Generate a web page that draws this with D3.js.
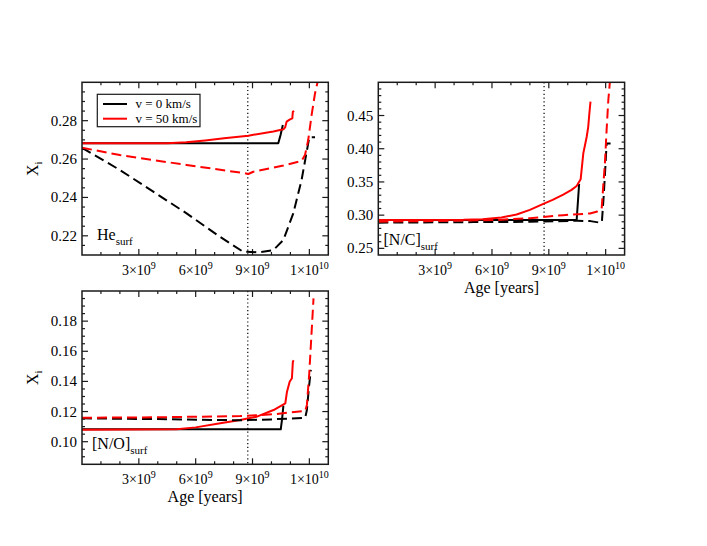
<!DOCTYPE html>
<html>
<head>
<meta charset="utf-8">
<script src="https://cdn.jsdelivr.net/npm/d3@7"></script>
<style>
  html, body { margin: 0; padding: 0; background: #fff; }
  svg { display: block; font-family: "Liberation Serif", "DejaVu Serif", serif; }
</style>
</head>
<body>
<svg id="chart" width="707" height="546"></svg>
<script>
// ---- data (ages in units of 10^9 years) ----
const xTickValues = [3, 6, 9, 12];
const xTickMantissa = ["3", "6", "9", "1"];
const xTickExponent = ["9", "9", "9", "10"];
const referenceAge = 8.75;

const seriesNames = ["v = 0 km/s", "v = 50 km/s"];

// He_surf
const heBlackSolid = [[0,0.2682],[10.36,0.2682],[10.48,0.2725],[10.6,0.2777]];
const heRedSolid = [[0,0.2682],[4.5,0.2683],[5.5,0.2688],[6.5,0.2697],[7.5,0.2708],[8.78,0.2722],[10.1,0.2744],[10.63,0.2755],[10.72,0.2765],[10.8,0.2795],[10.98,0.2807],[11.1,0.2812],[11.13,0.2847],[11.2,0.2850]];
const heBlackDashed = [[0,0.2659],[2.0,0.2543],[3.76,0.2430],[5.52,0.2317],[7.28,0.2195],[8.5,0.2117],[9.39,0.2114],[10.1,0.2126],[10.63,0.2178],[11.15,0.2317],[11.59,0.2491],[11.94,0.2682],[12.0,0.2713],[12.3,0.2713]];
const heRedDashed = [[0,0.2659],[2.0,0.2621],[5.52,0.2569],[8.6,0.2526],[8.78,0.2522],[9.04,0.2534],[10.63,0.2566],[11.59,0.2590],[11.77,0.2621],[11.94,0.2699],[12.12,0.2830],[12.3,0.2943],[12.42,0.2995],[12.5,0.3030]];

// [N/C]_surf
const ncBlackSolid = [[0,0.2927],[10.47,0.2927],[10.6,0.3470]];
const ncRedSolid = [[0,0.2927],[4.5,0.2930],[5.5,0.2940],[6.5,0.2965],[7.3,0.3010],[8.0,0.3080],[8.71,0.3170],[9.2,0.3230],[9.76,0.3310],[10.2,0.3380],[10.47,0.3440],[10.68,0.3540],[10.82,0.3930],[11.0,0.4180],[11.08,0.4330],[11.14,0.4530],[11.2,0.4710]];
const ncBlackDashed = [[0,0.2887],[5,0.2895],[8,0.2900],[10.5,0.2916],[11.2,0.2910],[11.7,0.2887],[11.8,0.2895],[11.9,0.3300],[12.0,0.3800],[12.05,0.4080],[12.26,0.4080]];
const ncRedDashed = [[0,0.2902],[3,0.2912],[6.25,0.2927],[8.0,0.2955],[9.76,0.3000],[11.17,0.3025],[11.52,0.3050],[11.79,0.3100],[11.87,0.3430],[11.96,0.3780],[12.05,0.4280],[12.14,0.4730],[12.23,0.5030]];

// [N/O]_surf
const noBlackSolid = [[0,0.1082],[10.49,0.1082],[10.56,0.1150],[10.63,0.1240]];
const noRedSolid = [[0,0.1080],[5.0,0.1082],[6.0,0.1095],[7.3,0.1122],[8.35,0.1144],[9.23,0.1166],[10.11,0.1210],[10.73,0.1255],[10.82,0.1332],[10.96,0.1398],[11.08,0.1421],[11.13,0.1531],[11.17,0.1540]];
const noBlackDashed = [[0,0.1155],[4,0.1150],[8.35,0.1142],[10,0.1148],[11.78,0.1159],[11.87,0.1210],[11.99,0.1376],[12.08,0.1476]];
const noRedDashed = [[0,0.1159],[4,0.1162],[8.35,0.1170],[10.1,0.1182],[11.78,0.1204],[11.87,0.1244],[11.99,0.1443],[12.1,0.1686],[12.22,0.1951]];

// ---- layout ----
const svg = d3.select("#chart");
const RED = "#ff0000", BLACK = "#000000", FRAME = "#1a1a1a";

const panels = [
  { id: "he", x0: 82, x1: 328.3, y0: 82.3, y1: 255, yDomain: [0.21, 0.30], yMajor: 0.02, yMinor: 0.005, yLabel: true, xLabel: false,
    tag: ["He", "surf"], tagX: 97, tagY: 239.5,
    series: [[heBlackSolid, BLACK, false], [heRedSolid, RED, false], [heBlackDashed, BLACK, true], [heRedDashed, RED, true]], legend: true },
  { id: "nc", x0: 378.3, x1: 624.6, y0: 82.3, y1: 255, yDomain: [0.24, 0.50], yMajor: 0.05, yMinor: 0.01, yLabel: false, xLabel: true,
    tag: ["[N/C]", "surf"], tagX: 383.5, tagY: 245,
    series: [[ncBlackSolid, BLACK, false], [ncRedSolid, RED, false], [ncBlackDashed, BLACK, true], [ncRedDashed, RED, true]] },
  { id: "no", x0: 82, x1: 328.3, y0: 291, y1: 464.3, yDomain: [0.085, 0.20], yMajor: 0.02, yMinor: 0.005, yLabel: true, xLabel: true,
    tag: ["[N/O]", "surf"], tagX: 92, tagY: 448.5,
    series: [[noBlackSolid, BLACK, false], [noRedSolid, RED, false], [noBlackDashed, BLACK, true], [noRedDashed, RED, true]] }
];

function range(start, stop, step) {
  const out = [];
  const n = Math.round((stop - start) / step);
  for (let i = 0; i <= n; i++) out.push(+(start + i * step).toFixed(6));
  return out;
}

panels.forEach(p => {
  const x = d3.scaleLinear().domain([0, 13]).range([p.x0, p.x1]);
  const y = d3.scaleLinear().domain(p.yDomain).range([p.y1, p.y0]);
  const g = svg.append("g");

  const clipId = "clip-" + p.id;
  svg.append("clipPath").attr("id", clipId).append("rect")
    .attr("x", p.x0).attr("y", p.y0).attr("width", p.x1 - p.x0).attr("height", p.y1 - p.y0);

  // ticks (inward, mirrored)
  const xMinor = range(0, 13, 1).filter(v => v > 0 && v < 13 && !xTickValues.includes(v));
  const yStartMinor = Math.ceil(p.yDomain[0] / p.yMinor - 1e-6) * p.yMinor;
  const yMinorVals = range(yStartMinor, p.yDomain[1], p.yMinor).filter(v => v > p.yDomain[0] + 1e-6 && v < p.yDomain[1] - 1e-6);
  const yMajorVals = yMinorVals.filter(v => Math.abs(v / p.yMajor - Math.round(v / p.yMajor)) < 1e-4);
  const yMinorOnly = yMinorVals.filter(v => !yMajorVals.includes(v));

  const tickG = g.append("g").attr("stroke", FRAME).attr("stroke-width", 1.2);
  const MAJ = 6, MIN = 3;
  xTickValues.forEach(v => {
    tickG.append("line").attr("x1", x(v)).attr("x2", x(v)).attr("y1", p.y1).attr("y2", p.y1 - MAJ);
    tickG.append("line").attr("x1", x(v)).attr("x2", x(v)).attr("y1", p.y0).attr("y2", p.y0 + MAJ);
  });
  xMinor.forEach(v => {
    tickG.append("line").attr("x1", x(v)).attr("x2", x(v)).attr("y1", p.y1).attr("y2", p.y1 - MIN);
    tickG.append("line").attr("x1", x(v)).attr("x2", x(v)).attr("y1", p.y0).attr("y2", p.y0 + MIN);
  });
  yMajorVals.forEach(v => {
    tickG.append("line").attr("y1", y(v)).attr("y2", y(v)).attr("x1", p.x0).attr("x2", p.x0 + MAJ);
    tickG.append("line").attr("y1", y(v)).attr("y2", y(v)).attr("x1", p.x1).attr("x2", p.x1 - MAJ);
  });
  yMinorOnly.forEach(v => {
    tickG.append("line").attr("y1", y(v)).attr("y2", y(v)).attr("x1", p.x0).attr("x2", p.x0 + MIN);
    tickG.append("line").attr("y1", y(v)).attr("y2", y(v)).attr("x1", p.x1).attr("x2", p.x1 - MIN);
  });

  // y tick labels
  yMajorVals.forEach(v => {
    g.append("text").attr("x", p.x0 - 5).attr("y", y(v) + 5)
      .attr("text-anchor", "end").attr("font-size", 15).attr("fill", "#000")
      .text(d3.format(".2f")(v));
  });

  // x tick labels
  xTickValues.forEach((v, i) => {
    const t = g.append("text").attr("x", x(v)).attr("y", p.y1 + 20)
      .attr("text-anchor", "middle").attr("font-size", 14).attr("fill", "#000");
    t.append("tspan").text(xTickMantissa[i] + "×10");
    t.append("tspan").attr("dy", -6).attr("font-size", 10).text(xTickExponent[i]);
  });

  // reference vertical dotted line
  g.append("line").attr("x1", x(referenceAge)).attr("x2", x(referenceAge))
    .attr("y1", p.y0).attr("y2", p.y1)
    .attr("stroke", "#000").attr("stroke-width", 1.2).attr("stroke-dasharray", "1.2,2.6");

  // curves
  const line = d3.line().x(d => x(d[0])).y(d => y(d[1]));
  const curves = g.append("g").attr("clip-path", `url(#${clipId})`);
  p.series.forEach(([data, color, dashed]) => {
    curves.append("path").datum(data).attr("d", line)
      .attr("fill", "none").attr("stroke", color).attr("stroke-width", 2)
      .attr("stroke-linejoin", "round")
      .attr("stroke-dasharray", dashed ? "10,5" : null);
  });

  // frame
  g.append("rect").attr("x", p.x0).attr("y", p.y0).attr("width", p.x1 - p.x0).attr("height", p.y1 - p.y0)
    .attr("fill", "none").attr("stroke", FRAME).attr("stroke-width", 1.5);

  // panel tag
  const tag = g.append("text").attr("x", p.tagX).attr("y", p.tagY).attr("font-size", 16).attr("fill", "#000");
  tag.append("tspan").text(p.tag[0]);
  tag.append("tspan").attr("dy", 5).attr("font-size", 11).text(p.tag[1]);

  // axis titles
  if (p.yLabel) {
    const cy = (p.y0 + p.y1) / 2;
    const t = g.append("text").attr("transform", `translate(38,${cy}) rotate(-90)`)
      .attr("text-anchor", "middle").attr("font-size", 16).attr("fill", "#000");
    t.append("tspan").text("X");
    t.append("tspan").attr("dy", 4).attr("font-size", 11).text("i");
  }
  if (p.xLabel) {
    g.append("text").attr("x", (p.x0 + p.x1) / 2).attr("y", p.y1 + 38)
      .attr("text-anchor", "middle").attr("font-size", 16).attr("fill", "#000")
      .text("Age [years]");
  }

  // legend
  if (p.legend) {
    const lg = g.append("g");
    lg.append("rect").attr("x", 97.3).attr("y", 94.3).attr("width", 102.7).attr("height", 32.4)
      .attr("fill", "#fff").attr("stroke", FRAME).attr("stroke-width", 1.2);
    [BLACK, RED].forEach((c, i) => {
      const yy = 104 + i * 14.7;
      lg.append("line").attr("x1", 103).attr("x2", 127).attr("y1", yy).attr("y2", yy)
        .attr("stroke", c).attr("stroke-width", 2);
      lg.append("text").attr("x", 135.5).attr("y", yy + 4).attr("font-size", 13).attr("fill", "#000")
        .text(seriesNames[i]);
    });
  }
});
</script>
</body>
</html>
